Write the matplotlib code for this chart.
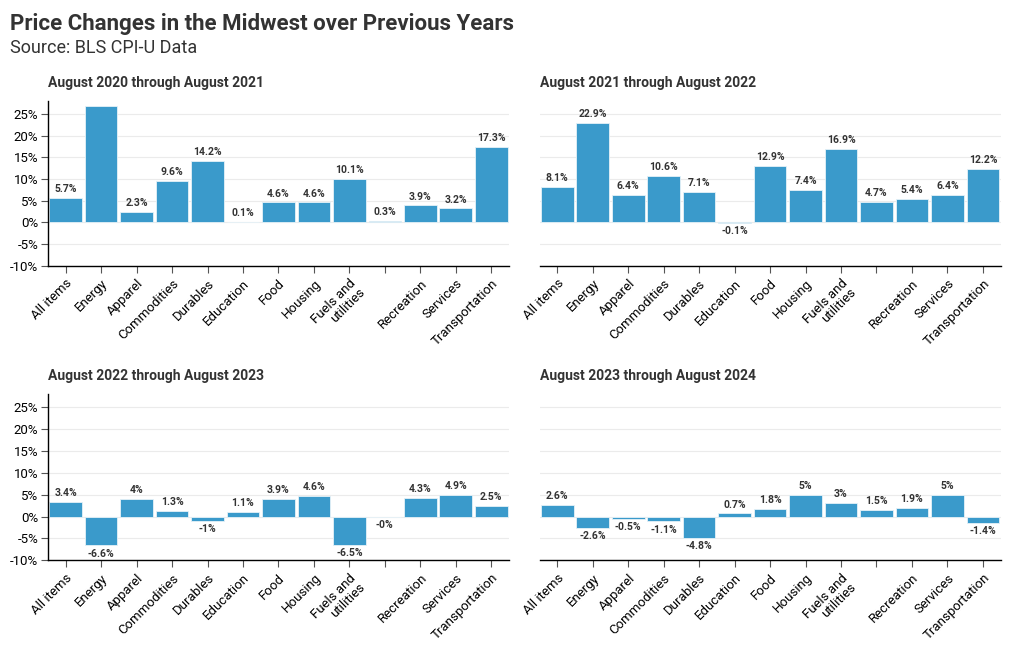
import numpy as np
import matplotlib.pyplot as plt

plt.rcParams['font.family'] = ['Roboto', 'DejaVu Sans']

categories = ['All items', 'Energy', 'Apparel', 'Commodities', 'Durables', 'Education',
              'Food', 'Housing', 'Fuels and\nutilities', '', 'Recreation', 'Services',
              'Transportation']

titles = ['August 2020 through August 2021', 'August 2021 through August 2022',
          'August 2022 through August 2023', 'August 2023 through August 2024']

vals_2021 = [5.7, 26.9, 2.3, 9.6, 14.2, 0.1, 4.6, 4.6, 10.1, 0.3, 3.9, 3.2, 17.3]
vals_2022 = [8.1, 22.9, 6.4, 10.6, 7.1, -0.1, 12.9, 7.4, 16.9, 4.7, 5.4, 6.4, 12.2]
vals_2023 = [3.4, -6.6, 4.0, 1.3, -1.0, 1.1, 3.9, 4.6, -6.5, -0.0, 4.3, 4.9, 2.5]
vals_2024 = [2.6, -2.6, -0.5, -1.1, -4.8, 0.7, 1.8, 5.0, 3.0, 1.5, 1.9, 5.0, -1.4]

series = [vals_2021, vals_2022, vals_2023, vals_2024]

bar_color = '#3a9acb'
text_color = '#333333'

fig = plt.figure(figsize=(10.2, 6.5), dpi=100)

positions = [
    [0.047, 0.591, 0.452, 0.254],
    [0.529, 0.591, 0.452, 0.254],
    [0.047, 0.138, 0.452, 0.256],
    [0.529, 0.138, 0.452, 0.256],
]

x = np.arange(len(categories))

for i, vals in enumerate(series):
    ax = fig.add_axes(positions[i])
    ax.bar(x, vals, width=0.92, color=bar_color, edgecolor='#e6f2f8', linewidth=0.6, zorder=2)
    ax.set_ylim(-10, 28)
    ax.set_xlim(-0.5, len(categories) - 0.5)
    ax.set_yticks([-10, -5, 0, 5, 10, 15, 20, 25])
    ax.grid(axis='y', color='#ebebeb', linewidth=0.8, zorder=0)
    ax.set_axisbelow(True)
    ax.set_xticks(x)
    ax.set_xticklabels(categories, rotation=45, ha='right', rotation_mode='anchor',
                       fontsize=9.5, color='black', linespacing=0.95)
    ax.tick_params(axis='x', length=5, color='#555555', pad=3)
    for s in ['top', 'right']:
        ax.spines[s].set_visible(False)
    ax.spines['bottom'].set_linewidth(1.0)
    if i % 2 == 0:
        ax.set_yticklabels([f'{t}%' for t in ax.get_yticks().astype(int)],
                           fontsize=9.5, color='black')
        ax.tick_params(axis='y', length=5, color='#555555', pad=2)
        ax.spines['left'].set_linewidth(1.0)
    else:
        ax.spines['left'].set_visible(False)
        ax.tick_params(axis='y', length=0, labelleft=False)

    for xi, v in zip(x, vals):
        lab = f'{v:g}%'
        if v > 0 or (v == 0 and not np.signbit(v)):
            ax.text(xi, v + 0.9, lab, ha='center', va='bottom', fontsize=7.5,
                    fontweight='bold', color=text_color, clip_on=True)
        else:
            ax.text(xi, v - 0.8, lab, ha='center', va='top', fontsize=7.5,
                    fontweight='bold', color=text_color, clip_on=True)

    ax.set_title(titles[i], loc='left', fontsize=10, fontweight='bold',
                 color=text_color, pad=10)

fig.text(0.01, 0.963, 'Price Changes in the Midwest over Previous Years',
         fontsize=16, fontweight='bold', color=text_color, va='center')
fig.text(0.01, 0.926, 'Source: BLS CPI-U Data', fontsize=13, color=text_color, va='center')

fig.savefig('out.png', dpi=100)
